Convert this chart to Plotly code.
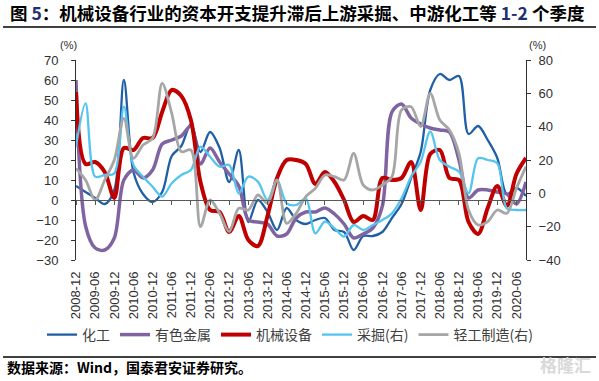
import plotly.graph_objects as go

# ---- data ----
quarters = [f"{y}-{m:02d}" for y in range(2008, 2021) for m in (3, 6, 9, 12)]
quarters = quarters[quarters.index("2008-12"):quarters.index("2020-09") + 1]

tick_labels = ["2008-12", "2009-06", "2009-12", "2010-06", "2010-12", "2011-06",
               "2011-12", "2012-06", "2012-12", "2013-06", "2013-12", "2014-06",
               "2014-12", "2015-06", "2015-12", "2016-06", "2016-12", "2017-06",
               "2017-12", "2018-06", "2018-12", "2019-06", "2019-12", "2020-06"]

chem = [7, 4, 1, -2, 5, 60, 14, 3, -1, 4, 22, 27, 38, 24, 34, 26, 9, 25, -11, 0,
        -6, -15, -4, -10, -12, -10, -9, -15, -16, -25, -18, -18, -16, -9, -2, 11,
        24, 55, 63, 60, 62, 33, 37, 30, 21, 3, 6, 2]

metals = [60, -13, -24, -25, -19, 10, 15, 11, 15, 28, 30, 32, 37, 18, 26, 19, 13, 7,
          -10, -11, -12, -18, -17, -9, -6, -6, -4, -7, -12, -19, -17, -14, -3, 44,
          48, 41, 38, 36, 35, 34, 20, 1, 5, 5, 4, 3, -2, 9]

machinery = [54, 18, 19, 14, 1, 26, 25, 31, 31, 44, 55, 52, 40, 9, -5, -6, -16, -8,
             -20, -23, -8, 11, 20, 20, 18, 8, 14, 9, 0, -11, -8, -10, 11, 10, 11,
             19, -5, 23, 25, 11, 10, -11, -17, -4, 7, -3, 13, 21]

mining = [28, 54, 10, 11, 12, 52, 17, 10, 4, -2, 6, 11, 14, 28, 22, 16, 17, 0, 10, 7,
          -4, 8, -6, -7, -3, -24, -17, -21, -26, -19, -22, -19, -16, -12, -3, 10,
          19, 37, 20, 16, 13, 0, 21, 20, 18, -9, -10, -10]

light_mfg = [15, 8, -4, 8, 20, 45, 21, 29, 33, 66, 48, 25, 26, -20, -4, -12, -23, -9,
             -10, -1, -6, 8, -18, -12, -2, 3, 11, 10, 8, 24, 5, 2, 5, 10, 50, 52,
             40, 60, 44, 38, 24, -10, -19, -17, -10, -12, 3, 16]

# ---- geometry helpers (pixel -> paper) ----
W, H = 599, 381
L, R, T, B = 76, 526, 60, 260


def px(x):
    return (x - L) / (R - L)


def py(y):
    return (B - y) / (B - T)


CJK = "Noto Sans CJK SC"
LAT = "Liberation Sans"

fig = go.Figure()

series = [
    ("化工", chem, "#1F5FA6", 2.3, "y"),
    ("有色金属", metals, "#8064A2", 3.5, "y"),
    ("机械设备", machinery, "#C00000", 4.0, "y"),
    ("采掘(右)", mining, "#55C5F0", 2.3, "y2"),
    ("轻工制造(右)", light_mfg, "#A6A6A6", 2.8, "y2"),
]
for name, vals, color, w, yax in series:
    fig.add_trace(go.Scatter(
        x=quarters, y=vals, name=name, mode="lines", yaxis=yax,
        line=dict(color=color, width=w, shape="spline", smoothing=0.9),
        hoverinfo="skip"))

even_idx = list(range(0, 48, 2))

fig.update_layout(
    width=W, height=H,
    margin=dict(l=L, r=W - R, t=T, b=H - B, pad=0, autoexpand=False),
    paper_bgcolor="white", plot_bgcolor="white",
    showlegend=True,
    legend=dict(orientation="h", xref="paper", yref="paper",
                x=px(42), xanchor="left", y=py(335), yanchor="middle",
                font=dict(family=CJK, size=14, color="#404040"),
                bgcolor="rgba(0,0,0,0)", itemwidth=30, tracegroupgap=0),
    xaxis=dict(type="category", categoryorder="array", categoryarray=quarters,
               range=[0, 47], tickmode="array", tickvals=tick_labels, ticktext=tick_labels,
               tickangle=-90, tickfont=dict(family=LAT, size=13, color="#303030"),
               showline=False, showgrid=False, zeroline=False, ticks="",
               ticklabelstandoff=8),
    xaxis2=dict(overlaying="x", anchor="free", position=0.3, range=[0, 47],
                tickmode="array", tickvals=even_idx, ticks="outside", ticklen=4,
                tickcolor="#595959", showline=True, linecolor="#595959", linewidth=1,
                showticklabels=False, showgrid=False, zeroline=False),
    yaxis=dict(range=[-30, 70], dtick=10, tick0=0, ticks="outside", ticklen=4,
               tickcolor="#303030", showline=True, linecolor="#303030", linewidth=1,
               showgrid=False, zeroline=False,
               tickfont=dict(family=LAT, size=13, color="#303030"), ticklabelstandoff=10),
    yaxis2=dict(range=[-40, 80], dtick=20, tick0=0, overlaying="y", side="right",
                ticks="outside", ticklen=4, tickcolor="#303030", showline=True,
                linecolor="#303030", linewidth=1, showgrid=False, zeroline=False,
                tickfont=dict(family=LAT, size=13, color="#303030"), ticklabelstandoff=5),
)

# invisible helper trace so the zero-line axis is drawn
fig.add_trace(go.Scatter(x=[0, 47], y=[None, None], xaxis="x2", yaxis="y",
                         mode="lines", showlegend=False, hoverinfo="skip"))

ann = [
    dict(x=px(8), y=py(13), xanchor="left", yanchor="middle",
         text="<b>图 <span style='color:#1F2F6F'>5</span>：机械设备行业的资本开支提升滞后上游采掘、中游化工等 "
              "<span style='color:#1F2F6F'>1-2</span> 个季度</b>",
         font=dict(family=CJK, size=17.5, color="#000000")),
    dict(x=px(68), y=py(45), xanchor="center", yanchor="middle", text="(%)",
         font=dict(family=LAT, size=11, color="#303030")),
    dict(x=px(537), y=py(45), xanchor="center", yanchor="middle", text="(%)",
         font=dict(family=LAT, size=11, color="#303030")),
    dict(x=px(5), y=py(367), xanchor="left", yanchor="middle",
         text="<b>数据来源：Wind，国泰君安证券研究。</b>",
         font=dict(family=CJK, size=14, color="#000000")),
    dict(x=px(593), y=py(364), xanchor="right", yanchor="middle", text="<b>格隆汇</b>",
         font=dict(family=CJK, size=17, color="#D9D9D9")),
]
for a in ann:
    a.update(xref="paper", yref="paper", showarrow=False)
fig.update_layout(annotations=ann)

fig.update_layout(shapes=[
    dict(type="line", xref="paper", yref="paper", x0=px(3), x1=px(596), y0=py(27), y1=py(27),
         line=dict(color="#000000", width=1.5)),
    dict(type="line", xref="paper", yref="paper", x0=px(3), x1=px(596), y0=py(357), y1=py(357),
         line=dict(color="#000000", width=1.5)),
])

fig.write_html("out.html", config={"displayModeBar": False},
               post_script="document.body.style.margin='0';document.body.style.overflow='hidden';")
